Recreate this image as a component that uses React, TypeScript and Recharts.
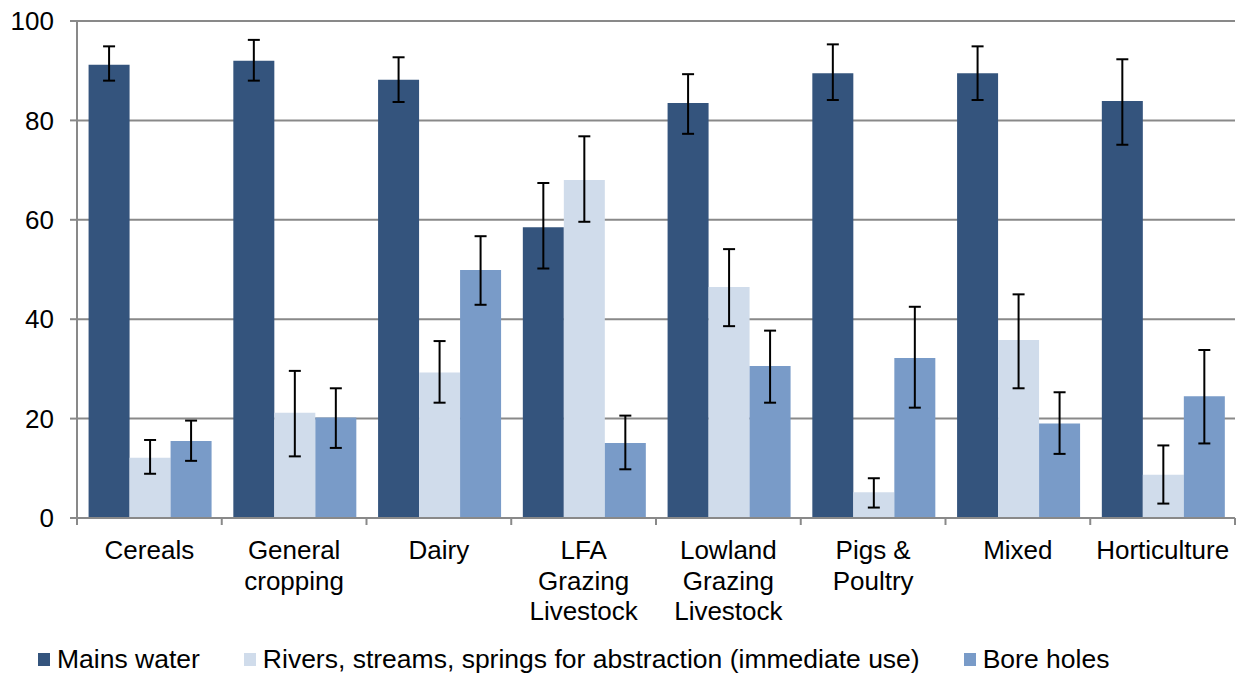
import { BarChart, Bar, ErrorBar, XAxis, YAxis, CartesianGrid } from 'recharts';

const CATEGORIES = [
  ['Cereals'],
  ['General', 'cropping'],
  ['Dairy'],
  ['LFA', 'Grazing', 'Livestock'],
  ['Lowland', 'Grazing', 'Livestock'],
  ['Pigs &', 'Poultry'],
  ['Mixed'],
  ['Horticulture'],
];

const MAINS = [91.2, 92.0, 88.2, 58.5, 83.5, 89.5, 89.5, 83.9];
const MAINS_LOW = [88.0, 88.0, 83.7, 50.2, 77.3, 84.1, 84.1, 75.1];
const MAINS_HIGH = [94.9, 96.2, 92.7, 67.4, 89.3, 95.3, 94.9, 92.3];

const RIVERS = [12.1, 21.2, 29.3, 68.0, 46.5, 5.2, 35.8, 8.7];
const RIVERS_LOW = [8.9, 12.4, 23.2, 59.6, 38.6, 2.1, 26.1, 2.9];
const RIVERS_HIGH = [15.7, 29.6, 35.6, 76.8, 54.1, 8.0, 45.0, 14.6];

const BORE = [15.5, 20.2, 49.9, 15.1, 30.6, 32.2, 19.0, 24.5];
const BORE_LOW = [11.5, 14.1, 42.9, 9.8, 23.2, 22.2, 12.9, 15.0];
const BORE_HIGH = [19.6, 26.1, 56.7, 20.6, 37.7, 42.5, 25.3, 33.8];

const Y_TICKS = [0, 20, 40, 60, 80, 100];

const SERIES = [
  { key: 'mains', name: 'Mains water', color: '#34547D' },
  { key: 'rivers', name: 'Rivers, streams, springs for abstraction (immediate use)', color: '#D0DCEB' },
  { key: 'bore', name: 'Bore holes', color: '#799BC8' },
];

const GRID = '#898989';
const FONT = '"Liberation Sans", Arial, sans-serif';

const W = 1242;
const H = 677;
const MARGIN = { top: 21, right: 7, left: 0, bottom: 49 };
const Y_WIDTH = 77;
const BAND = (W - MARGIN.left - MARGIN.right - Y_WIDTH) / CATEGORIES.length;

// error bars take [minus, plus] offsets from the bar value
const data = CATEGORIES.map((lines, i) => ({
  name: lines.join(' '),
  mains: MAINS[i],
  mainsErr: [MAINS[i] - MAINS_LOW[i], MAINS_HIGH[i] - MAINS[i]],
  rivers: RIVERS[i],
  riversErr: [RIVERS[i] - RIVERS_LOW[i], RIVERS_HIGH[i] - RIVERS[i]],
  bore: BORE[i],
  boreErr: [BORE[i] - BORE_LOW[i], BORE_HIGH[i] - BORE[i]],
}));

function CategoryTick({ x, y, payload }: any) {
  const lines = CATEGORIES[payload.index] ?? [payload.value];
  const isLast = payload.index === CATEGORIES.length - 1;
  return (
    <g>
      {/* tick marks sit on the category boundaries, not centres */}
      <line x1={x - BAND / 2} x2={x - BAND / 2} y1={y} y2={y + 7} stroke={GRID} strokeWidth={2} />
      {isLast && <line x1={x + BAND / 2} x2={x + BAND / 2} y1={y} y2={y + 7} stroke={GRID} strokeWidth={2} />}
      <text x={x} y={y} textAnchor="middle" fontSize={26} fill="#000" fontFamily={FONT}>
        {lines.map((l, i) => (
          <tspan key={i} x={x} dy={i === 0 ? 41 : 30.5}>
            {l}
          </tspan>
        ))}
      </text>
    </g>
  );
}

function LegendRow() {
  return (
    <div
      style={{
        position: 'absolute',
        left: 38,
        top: 644,
        display: 'flex',
        alignItems: 'center',
        fontFamily: FONT,
        fontSize: 26.5,
        color: '#000',
        whiteSpace: 'nowrap',
      }}
    >
      {SERIES.map((s) => (
        <div key={s.key} style={{ display: 'flex', alignItems: 'center', marginRight: 44 }}>
          <span style={{ width: 12, height: 13, background: s.color, marginRight: 7, display: 'inline-block' }} />
          <span>{s.name}</span>
        </div>
      ))}
    </div>
  );
}

export default function App() {
  return (
    <div style={{ position: 'absolute', left: 0, top: 0, width: W, height: H, background: '#fff' }}>
      <BarChart width={W} height={H} data={data} margin={MARGIN} barCategoryGap="8%" barGap={0}>
        <CartesianGrid vertical={false} stroke={GRID} strokeWidth={2} />
        <XAxis
          dataKey="name"
          interval={0}
          tick={<CategoryTick />}
          tickLine={false}
          axisLine={{ stroke: GRID, strokeWidth: 2 }}
          tickSize={0}
          tickMargin={0}
          height={110}
        />
        <YAxis
          domain={[0, 100]}
          ticks={Y_TICKS}
          width={Y_WIDTH}
          tickSize={7}
          tickMargin={16}
          tick={{ fontSize: 26, fill: '#000', fontFamily: FONT }}
          tickLine={{ stroke: GRID, strokeWidth: 2 }}
          axisLine={{ stroke: GRID, strokeWidth: 2 }}
        />
        {SERIES.map((s) => (
          <Bar key={s.key} dataKey={s.key} name={s.name} fill={s.color} isAnimationActive={false}>
            <ErrorBar
              dataKey={`${s.key}Err`}
              direction="y"
              width={6}
              stroke="#000"
              strokeWidth={2}
              isAnimationActive={false}
            />
          </Bar>
        ))}
      </BarChart>
      <LegendRow />
    </div>
  );
}
